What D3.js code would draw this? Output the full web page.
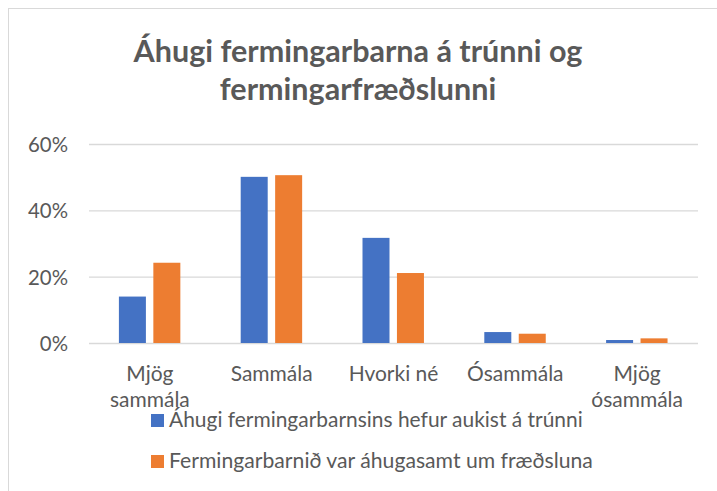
<!DOCTYPE html>
<html>
<head>
<meta charset="utf-8">
<script src="https://cdn.jsdelivr.net/npm/d3@7"></script>
<style>
body { margin: 0; background: #fff; }
text { font-family: Lato, "Open Sans", sans-serif; }
</style>
</head>
<body>
<svg id="chart" width="717" height="491"></svg>
<script>
var categories = [["Mjög", "sammála"], ["Sammála"], ["Hvorki né"], ["Ósammála"], ["Mjög", "ósammála"]];
var seriesNames = ["Áhugi fermingarbarnsins hefur aukist á trúnni", "Fermingarbarnið var áhugasamt um fræðsluna"];
var blueValues = [0.14, 0.501, 0.317, 0.033, 0.009];
var orangeValues = [0.242, 0.506, 0.211, 0.028, 0.014];
var yTicks = [0, 0.2, 0.4, 0.6];
var titleLines = ["Áhugi fermingarbarna á trúnni og", "fermingarfræðslunni"];

var colors = ["#4472C4", "#ED7D31"];
var textColor = "#595959";
var svg = d3.select("#chart");

// stillir leturstærð svo textinn fylli ákveðna breidd
function fitWidth(sel, width) {
	var fs = +sel.attr("font-size");
	var w = sel.node().getComputedTextLength();
	sel.attr("font-size", fs * width / w);
	return fs * width / w;
}

// ramminn
svg.append("rect").attr("x", 8.5).attr("y", 8.5).attr("width", 730).attr("height", 500)
	.attr("fill", "#fff").attr("stroke", "#D9D9D9");

// titill
var titles = svg.selectAll(".title").data(titleLines).enter().append("text")
	.attr("x", 358).attr("y", function (d, i) { return 62 + i * 38; })
	.attr("text-anchor", "middle").attr("font-size", 30).attr("font-weight", "bold")
	.attr("fill", textColor).text(function (d) { return d; });
var tfs = fitWidth(d3.select(titles.nodes()[0]), 449);
titles.attr("font-size", tfs);

var x0 = d3.scaleBand().domain(d3.range(categories.length)).range([89, 698]);
var y = d3.scaleLinear().domain([0, 0.6]).range([343, 144]);

// gridlínur
svg.append("g").selectAll("line").data(yTicks).enter().append("line")
	.attr("x1", 89).attr("x2", 698)
	.attr("y1", function (d) { return y(d) + 0.5; }).attr("y2", function (d) { return y(d) + 0.5; })
	.attr("stroke", "#D9D9D9").attr("stroke-width", 1.3);

var yAxis = d3.axisLeft(y).tickValues(yTicks).tickFormat(d3.format(".0%")).tickSize(0).tickPadding(0);
var gy = svg.append("g").attr("transform", "translate(68,0)").call(yAxis);
gy.select(".domain").remove();
gy.selectAll("text").attr("font-size", 21).attr("fill", textColor)
	.attr("font-family", "Lato, sans-serif").attr("dy", "0.36em");
var yfs = fitWidth(gy.selectAll("text").filter(function (d) { return d === 0.6; }), 40);
gy.selectAll("text").attr("font-size", yfs);

// súlur
var data = [blueValues, orangeValues];
data.forEach(function (vals, s) {
	svg.append("g").selectAll("rect").data(vals).enter().append("rect")
		.attr("x", function (d, i) {
			var c = x0(i) + x0.bandwidth() / 2;
			var x1 = d3.scaleBand().domain([0, 1]).range([c - 31, c + 31]).paddingInner(0.2);
			return x1(s);
		})
		.attr("width", 27)
		.attr("y", function (d) { return y(d); })
		.attr("height", function (d) { return y(0) - y(d); })
		.attr("fill", colors[s]);
});

// flokkaheiti
var gx = svg.append("g");
var probe = gx.append("text").attr("font-size", 21).text("Sammála");
var xfs = fitWidth(probe, 82);
probe.remove();
categories.forEach(function (lines, i) {
	var t = gx.append("text").attr("text-anchor", "middle").attr("font-size", xfs).attr("fill", textColor);
	lines.forEach(function (l, j) {
		t.append("tspan").attr("x", x0(i) + x0.bandwidth() / 2).attr("y", 381 + j * 26).text(l);
	});
});

// skýringar
var legendWidths = [414, 424];
seriesNames.forEach(function (n, i) {
	var ly = 414 + i * 41;
	svg.append("rect").attr("x", 151).attr("y", ly).attr("width", 13).attr("height", 13).attr("fill", colors[i]);
	var t = svg.append("text").attr("x", 169).attr("y", ly + 13).attr("font-size", 21).attr("fill", textColor).text(n);
	fitWidth(t, legendWidths[i]);
});
</script>
</body>
</html>
